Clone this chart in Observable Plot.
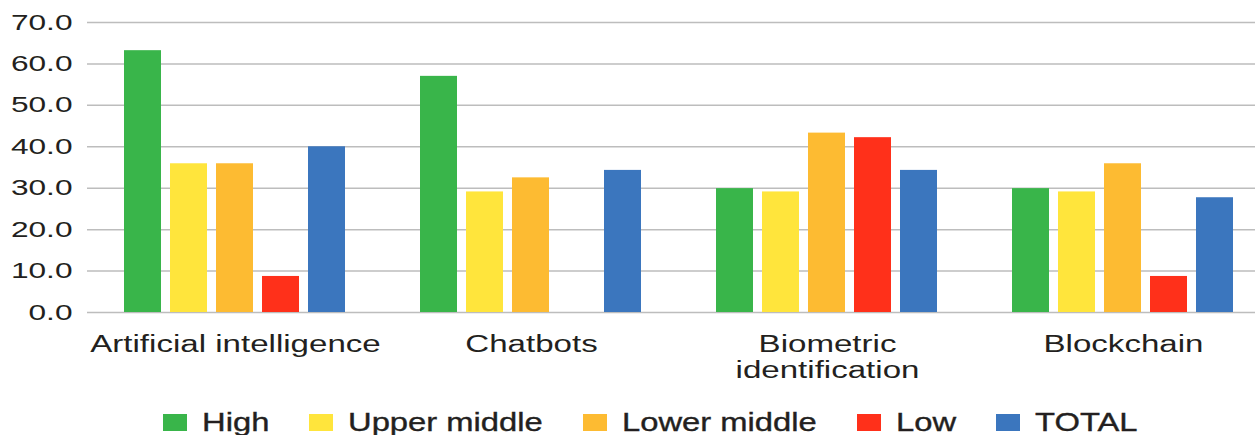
<!DOCTYPE html>
<html><head><meta charset="utf-8">
<script src="https://cdn.jsdelivr.net/npm/d3@7"></script>
<script src="https://cdn.jsdelivr.net/npm/@observablehq/plot@0.6"></script>
<style>
html,body{margin:0;padding:0;background:#fff;overflow:hidden;}
#wrap{position:relative;width:1255px;height:435px;font-family:"Liberation Sans",Arial,sans-serif;}
#legend{position:absolute;left:0;top:410px;height:25px;display:flex;align-items:center;padding-left:163px;}
.item{display:flex;align-items:center;}
.sw{width:24px;height:17px;margin-right:15px;flex:none;}
.lab{display:inline-block;font-size:25px;line-height:25px;color:#231f20;-webkit-text-stroke:0.35px #231f20;transform-origin:0 50%;white-space:nowrap;}
</style></head><body><div id="wrap"></div>
<script>
const categories = ["Artificial intelligence", "Chatbots", "Biometric\nidentification", "Blockchain"];
const series = ["High", "Upper middle", "Lower middle", "Low", "TOTAL"];
const colors = ["#39b54a", "#ffe53c", "#fdbb32", "#ff301a", "#3b76be"];
const high = [63.2, 57.0, 29.9, 29.9];
const upperMiddle = [35.9, 29.1, 29.1, 29.1];
const lowerMiddle = [35.9, 32.5, 43.3, 35.9];
const low = [8.7, null, 42.2, 8.7];
const total = [40.0, 34.3, 34.3, 27.7];
const yTicks = [0, 10, 20, 30, 40, 50, 60, 70];

const values = [high, upperMiddle, lowerMiddle, low, total];
const data = [];
categories.forEach((c, i) => series.forEach((s, j) => {
  const v = values[j][i];
  if (v != null) data.push({category: c, series: s, value: v});
}));

const chart = Plot.plot({
  width: 1255, height: 395,
  marginLeft: 87, marginRight: -16, marginTop: 22, marginBottom: 83,
  style: {fontFamily: "'Liberation Sans', Arial, sans-serif", color: "#231f20", background: "transparent", overflow: "hidden"},
  fx: {domain: categories, padding: 0, label: null},
  x: {domain: series, paddingInner: 0.194, paddingOuter: 0.78, axis: null},
  y: {domain: [0, 70], label: null},
  color: {domain: series, range: colors},
  marks: [
    Plot.ruleY(yTicks, {stroke: "#bdbdbd", strokeWidth: 1.5}),
    Plot.barY(data, {fx: "category", x: "series", y: "value", fill: "series"}),
    Plot.axisY({ticks: yTicks, tickSize: 0, tickPadding: 15, tickFormat: d3.format(".1f"), fontSize: 22.3, fill: "#231f20", stroke: "#231f20", strokeWidth: 0.35, label: null}),
    Plot.axisFx({anchor: "bottom", tickSize: 0, tickPadding: 20, fontSize: 23.3, lineHeight: 1.15, fill: "#231f20", stroke: "#231f20", strokeWidth: 0.35, label: null})
  ]
});

function stretch(sel, s) {
  chart.querySelectorAll(sel).forEach(t => {
    const tr = t.getAttribute("transform");
    if (tr) t.setAttribute("transform", tr + ` scale(${s},1)`);
    else {
      const x = +t.getAttribute("x") || 0, y = +t.getAttribute("y") || 0;
      t.removeAttribute("x"); t.removeAttribute("y");
      t.setAttribute("transform", `translate(${x},${y}) scale(${s},1)`);
    }
  });
}
stretch('g[aria-label="y-axis tick label"] text', 1.42);
stretch('g[aria-label="fx-axis tick label"] text', 1.42);

const wrap = document.getElementById("wrap");
wrap.appendChild(chart);

const legend = document.createElement("div");
legend.id = "legend";
wrap.appendChild(legend);
const color = chart.scale("color");
const labs = [];
series.forEach(s => {
  const item = document.createElement("div");
  item.className = "item";
  const sw = document.createElement("span");
  sw.className = "sw";
  sw.style.background = color.apply(s);
  const lab = document.createElement("span");
  lab.className = "lab";
  lab.textContent = s;
  item.appendChild(sw); item.appendChild(lab);
  legend.appendChild(item);
  labs.push(lab);
});
const ls = 1.31;
labs.forEach(lab => {
  const w = lab.getBoundingClientRect().width;
  lab.style.transform = `scaleX(${ls})`;
  lab.style.marginRight = (w * (ls - 1) + 40) + "px";
});
</script></body></html>
